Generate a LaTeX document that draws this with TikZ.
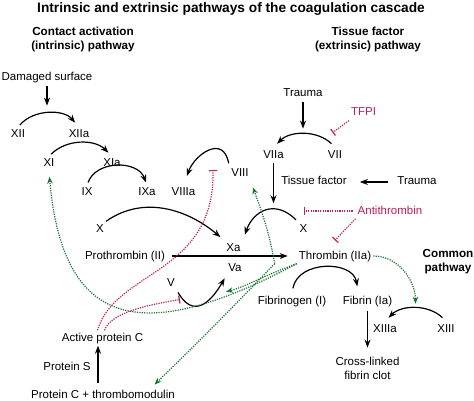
\documentclass[tikz,border=0pt]{standalone}
\usepackage{fontspec}
\setmainfont{Liberation Sans}
\usetikzlibrary{arrows.meta}
\definecolor{inhred}{RGB}{190,30,90}
\definecolor{actgreen}{RGB}{25,115,50}

\begin{document}
\begin{tikzpicture}[x=1pt,y=-1pt,font=\fontsize{11.5}{14}\selectfont,
		every node/.style={inner sep=2pt},
		lbl/.style={text height=8.5pt,text depth=2.5pt},
		head/.style={font=\fontsize{11.7}{14}\selectfont\bfseries,align=center},
		act/.style={line width=1.2pt,-{Stealth[length=8pt,width=6pt]}},
		feed/.style={actgreen,line width=1.2pt,dash pattern=on 1.2pt off 1.2pt,-{Stealth[length=7pt,width=5.5pt]}},
		inh/.style={inhred,line width=1.2pt,dash pattern=on 1.2pt off 1.2pt,-{Bar[width=8pt]}}]
	\useasboundingbox (0,0) rectangle (474,401);
	% Headings
	\node[font=\fontsize{13.7}{16}\selectfont\bfseries] (title) at (231,9) {Intrinsic and extrinsic pathways of the coagulation cascade};
	\node[head] (intr) at (83,39) {Contact activation\\(intrinsic) pathway};
	\node[head] (extr) at (368,39) {Tissue factor\\(extrinsic) pathway};
	\node[head] (common) at (448,262) {Common\\pathway};
	% Factors
	\foreach \n/\t/\x/\y in {dam/Damaged surface/47/78, xii/XII/18/135, xiia/XIIa/79/135,
			xi/XI/49/164, xia/XIa/112/164, ix/IX/87/193, ixa/IXa/147/193,
			viiia/VIIIa/183.5/193, viii/VIII/240/174, xin/X/100/229, xa/Xa/233.5/248,
			va/Va/235/268, v/V/171/283, prothr/Prothrombin (II)/125/256,
			thr/Thrombin (IIa)/335/256, trauma/Trauma/303/94, viia/VIIa/273.5/155,
			vii/VII/335/155, tf/Tissue factor/314/182, traumb/Trauma/417/182,
			xex/X/303.5/229, fbg/Fibrinogen (I)/292/301, fbn/Fibrin (Ia)/367.5/301,
			xiiia/XIIIa/385/329, xiii/XIII/446/329, apc/Active protein C/102.5/338,
			ps/Protein S/67/367, pctm/Protein C + thrombomodulin/103/395}
		\node[lbl] (\n) at (\x,\y) {\t};
	\node[align=center] (clot) at (367.5,368) {Cross-linked\\fibrin clot};
	% Inhibitors
	\node[lbl,text=inhred] (tfpi) at (363.5,113) {TFPI};
	\node[lbl,text=inhred] (anti) at (390,211) {Antithrombin};
	\coordinate (viiiblk) at (213,170);
	% Activation steps
	\draw[act,shorten <=3pt,shorten >=6pt] (xii.north) to[bend left=50] coordinate[pos=.5] (m12) (xiia.north);
	\draw[act,shorten <=3pt,shorten >=5pt] (xi.north) to[bend left=45] (xia.north);
	\draw[act,shorten <=3pt,shorten >=3pt] (ix.north) to[bend left=70,looseness=1.15] (ixa.north);
	\draw[act,shorten <=3pt,shorten >=10pt] (viii.north west) to[out=100,in=70,looseness=1.7] (viiia.north);
	\draw[act,shorten >=5pt] (xin.north east) to[out=35,in=140] (xa.north west);
	\draw[act,shorten <=2pt,shorten >=6pt] (xex.north west) to[out=135,in=70,looseness=1.4] coordinate[pos=.45] (mx) (xa.north east);
	\draw[act,shorten <=5pt,shorten >=5pt] (vii.north) to[bend right=45] coordinate[pos=.2] (m7b) coordinate[pos=.5] (m7) (viia.north);
	\draw[act,shorten <=2pt,shorten >=3pt] (v.south east) to[out=-60,in=-120,looseness=1.6] coordinate[pos=.12] (mv1) coordinate[pos=.72] (mv2) (va.south west);
	\draw[act,shorten <=5pt,shorten >=7pt] (fbg.north) to[out=80,in=100,looseness=1.3] ([xshift=-9pt]fbn.north);
	\draw[act,shorten <=5pt,shorten >=5pt] (xiii.north) to[bend right=45] coordinate[pos=.5] (m13) (xiiia.north);
	% Straight arrows
	\draw[act,shorten >=8pt] (dam.south) -- (dam.south |- m12);
	\draw[act,shorten >=6pt] (trauma.south) -- (trauma.south |- m7);
	\draw[act,shorten >=7pt] (viia.south) -- (viia.south |- mx);
	\draw[act,shorten <=7pt,shorten >=11pt] (traumb.west) -- (tf.east);
	\draw[act,shorten <=5pt,shorten >=9pt] (prothr.east) -- (thr.west);
	\draw[act,shorten <=2pt,shorten >=7pt] (fbn.south) -- (clot.north);
	\draw[act,shorten <=4pt] ([xshift=-5pt]pctm.north) -- ([xshift=-4.5pt]apc.south);
	% Thrombin feedback
	\draw[feed,shorten >=5pt] (thr.east) to[out=0,in=90] (m13);
	\draw[feed,shorten >=5pt] (thr.south west) to[out=208,in=-85,looseness=1.6] (xi.south);
	\draw[feed,shorten >=6pt] ([xshift=-22pt]thr.south west) to[out=100,in=-70] (viii.south east);
	\draw[feed,shorten >=4pt] ([xshift=-22pt]thr.south west) to[out=226,in=44] (pctm.9);
	\draw[feed,shorten >=14pt] (thr.south west) to[out=200,in=15] (mv2);
	% Inhibition
	\draw[inh,shorten >=11pt] (tfpi.south west) -- (m7b);
	\draw[inh,shorten <=3pt] (anti.west) -- (anti.west -| xex);
	\draw[inh] (anti.south west) -- ([yshift=8pt]thr.north);
	\draw[inh] ([xshift=-5pt]apc.north) .. controls (115,270) and (215,275) .. (viiiblk);
	\draw[inh,shorten >=3pt] ([xshift=2pt]apc.north) to[out=70,in=190,out looseness=.6] (mv1);
\end{tikzpicture}
\end{document}
